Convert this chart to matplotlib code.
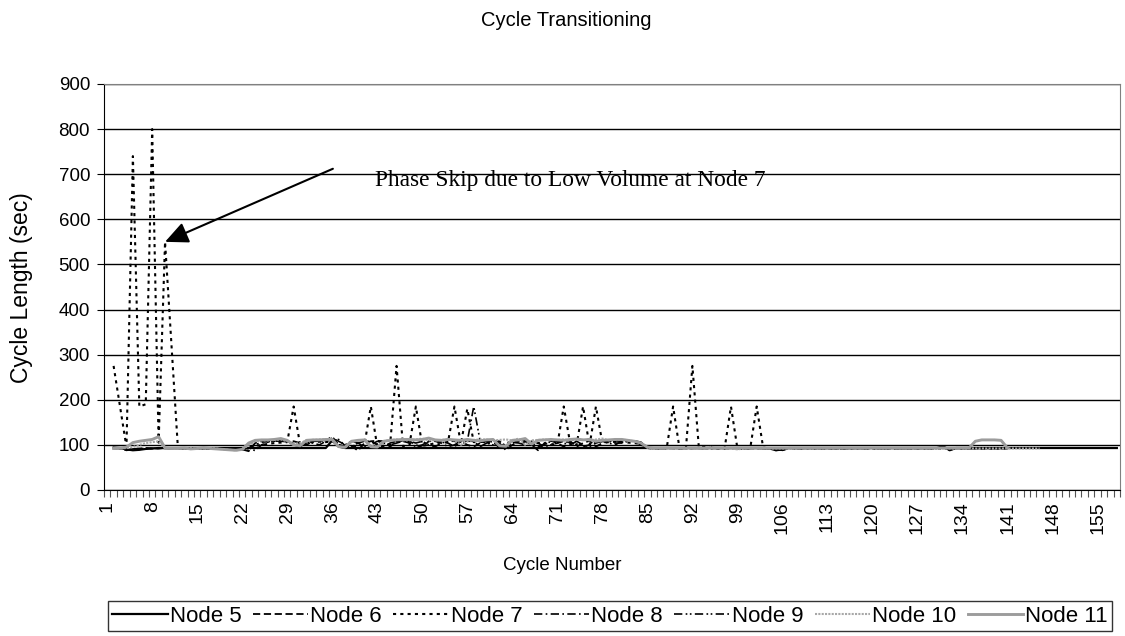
import numpy as np
import matplotlib.pyplot as plt

plt.rcParams['font.family'] = ['Liberation Sans', 'DejaVu Sans']

# cycle length (sec) per node, every series starts at cycle 2
node5 = [94, 93, 90, 88, 89, 91, 92, 93, 93, 93,
         93, 93, 93, 93, 93, 93, 93, 93, 93, 93,
         93, 93, 93, 93, 93, 93, 93, 93, 93, 93,
         93, 93, 93, 93, 110, 96, 93, 93, 93, 93,
         93, 93, 93, 93, 93, 93, 93, 93, 93, 93,
         93, 93, 93, 93, 93, 93, 93, 93, 93, 93,
         93, 93, 93, 93, 93, 93, 93, 93, 93, 93,
         93, 93, 93, 93, 93, 93, 93, 93, 93, 93,
         93, 93, 93, 93, 93, 93, 93, 93, 93, 93,
         93, 93, 93, 93, 93, 93, 93, 93, 93, 93,
         93, 93, 92, 88, 90, 93, 93, 93, 93, 93,
         93, 93, 93, 93, 93, 93, 93, 93, 93, 93,
         93, 93, 93, 93, 93, 93, 93, 93, 93, 97,
         88, 93, 93, 93, 93, 93, 93, 93, 93, 93,
         93, 93, 93, 93, 93, 93, 93, 93, 93, 93,
         93, 93, 93, 93, 93, 93, 93]
node6 = [92, 92, 88, 90, 92, 93, 92, 92, 93, 92,
         92, 93, 92, 91, 92, 92, 93, 92, 91, 90,
         90, 86, 104, 108, 108, 109, 109, 108, 108, 104,
         100, 108, 109, 110, 118, 100, 95, 98, 87, 104,
         108, 109, 108, 96, 108, 109, 108, 100, 94, 108,
         109, 108, 104, 96, 108, 100, 96, 104, 108, 109,
         108, 96, 104, 109, 108, 100, 88, 104, 109, 104,
         96, 108, 96, 104, 109, 96, 104, 108, 109, 108,
         109, 108, 100, 93, 92, 92, 93, 92, 92, 93,
         92, 93, 92, 92, 93, 92, 92, 93, 92, 92,
         93, 92, 92, 88, 92, 93, 92, 92, 93, 92,
         92, 92, 92, 92, 92, 92, 92, 92, 92, 92,
         92, 92, 92, 92, 92, 92, 92, 92, 92, 96,
         89, 92, 92, 92, 92, 92, 92, 92, 92, 92]
node7 = [275, 185, 95, 740, 185, 190, 800, 105, 550, 320,
         93, 92, 92, 93, 92, 91, 92, 92, 91, 90,
         91, 94, 98, 100, 102, 104, 105, 106, 185, 100,
         105, 106, 107, 106, 108, 100, 96, 98, 97, 100,
         185, 96, 98, 100, 275, 97, 100, 185, 98, 100,
         104, 105, 106, 185, 102, 180, 106, 107, 105, 104,
         100, 98, 104, 106, 107, 105, 104, 103, 102, 100,
         185, 103, 100, 185, 98, 185, 104, 106, 107, 106,
         105, 104, 102, 93, 92, 92, 92, 185, 92, 93,
         275, 95, 96, 94, 92, 91, 185, 92, 91, 93,
         185, 94, 92, 92, 93, 92, 92, 92, 92, 92,
         92, 92, 92, 92, 92, 92, 92, 92, 92, 92,
         92, 92, 92, 92, 92, 92, 92, 92, 92, 92,
         92, 92, 92, 92, 92, 92, 92, 92, 92, 92]
node8 = [93, 92, 90, 91, 92, 92, 92, 93, 92, 92,
         92, 92, 93, 92, 92, 91, 92, 92, 91, 90,
         89, 92, 100, 106, 107, 108, 108, 107, 100, 96,
         104, 108, 108, 109, 110, 112, 98, 96, 104, 108,
         108, 100, 96, 104, 108, 108, 104, 96, 100, 108,
         108, 104, 96, 100, 108, 108, 108, 96, 104, 108,
         104, 88, 100, 108, 108, 104, 96, 100, 108, 108,
         104, 100, 108, 96, 100, 108, 108, 104, 100, 108,
         108, 108, 104, 94, 92, 92, 93, 92, 92, 92,
         93, 92, 92, 93, 92, 92, 93, 92, 92, 92,
         92, 92, 93, 90, 88, 92, 92, 92, 92, 92,
         92, 92, 92, 92, 92, 92, 92, 92, 92, 92,
         92, 92, 92, 92, 92, 92, 92, 92, 93, 95,
         90, 92, 92, 92, 92, 92, 92, 92, 92, 92]
node9 = [92, 93, 91, 89, 90, 92, 92, 92, 93, 92,
         92, 91, 92, 92, 93, 92, 92, 91, 90, 90,
         90, 94, 87, 100, 106, 108, 109, 108, 104, 100,
         106, 104, 100, 108, 115, 108, 100, 108, 104, 96,
         100, 108, 104, 100, 104, 108, 108, 104, 108, 100,
         96, 104, 108, 108, 104, 108, 185, 108, 104, 100,
         96, 104, 108, 104, 100, 108, 104, 96, 100, 104,
         108, 104, 108, 100, 96, 104, 108, 108, 104, 104,
         108, 109, 106, 95, 92, 92, 92, 93, 92, 92,
         92, 93, 92, 92, 92, 93, 92, 92, 92, 92,
         92, 92, 92, 92, 88, 93, 92, 92, 92, 92,
         92, 92, 92, 92, 92, 92, 92, 92, 92, 92,
         92, 92, 92, 92, 92, 92, 92, 92, 92, 92,
         92, 92, 92, 92, 92, 92, 92, 92, 92, 92]
node10 = [92, 92, 93, 95, 100, 104, 106, 108, 93, 92,
          92, 92, 93, 91, 92, 93, 92, 90, 89, 88,
          89, 100, 108, 110, 110, 111, 112, 108, 102, 104,
          110, 111, 112, 112, 110, 96, 94, 106, 110, 111,
          98, 96, 108, 111, 112, 110, 110, 112, 114, 110,
          110, 111, 112, 110, 100, 108, 111, 112, 112, 110,
          111, 112, 110, 114, 100, 110, 111, 112, 110, 111,
          112, 110, 112, 111, 110, 112, 114, 110, 111, 112,
          110, 108, 104, 94, 92, 92, 92, 92, 92, 92,
          92, 93, 92, 96, 92, 92, 92, 90, 92, 92,
          92, 93, 92, 92, 92, 92, 92, 92, 92, 92,
          92, 92, 92, 94, 92, 92, 92, 92, 92, 92,
          92, 92, 92, 92, 92, 92, 92, 92, 92, 92,
          92, 92, 92, 92, 92, 92, 92, 92, 92, 92,
          92, 92, 92, 92, 92]
node11 = [92, 93, 95, 105, 108, 110, 112, 118, 93, 92,
          92, 93, 91, 92, 94, 92, 91, 90, 89, 88,
          90, 104, 110, 111, 111, 112, 114, 110, 100, 98,
          110, 111, 111, 112, 112, 96, 95, 108, 110, 111,
          96, 95, 108, 110, 111, 112, 112, 111, 112, 115,
          111, 110, 112, 111, 110, 112, 110, 109, 111, 112,
          98, 97, 110, 111, 114, 102, 110, 111, 112, 111,
          110, 112, 113, 111, 112, 108, 110, 111, 112, 112,
          110, 108, 104, 95, 93, 93, 93, 93, 93, 93,
          93, 93, 93, 93, 93, 93, 93, 93, 93, 93,
          93, 93, 93, 93, 93, 93, 93, 93, 93, 93,
          93, 93, 93, 93, 93, 93, 93, 93, 93, 93,
          93, 93, 93, 93, 93, 93, 93, 93, 93, 93,
          93, 93, 93, 93, 108, 111, 111, 111, 110, 93]

n_cycles = 158
first_cycle = 2
tick_labels = list(range(1, n_cycles + 1, 7))

series = [
    ('Node 5', node5, dict(color='black', lw=1.6, ls='-')),
    ('Node 6', node6, dict(color='black', lw=1.3, ls=(0, (4, 2)))),
    ('Node 7', node7, dict(color='black', lw=1.5, ls=(0, (1.5, 2)))),
    ('Node 8', node8, dict(color='black', lw=1.2, ls=(0, (5, 2, 1, 2)))),
    ('Node 9', node9, dict(color='black', lw=1.2, ls=(0, (5, 2, 1, 1.5, 1, 2)))),
    ('Node 10', node10, dict(color='#a8a8a8', lw=1.5, ls=(0, (1, 0.6)))),
    ('Node 11', node11, dict(color='#9c9c9c', lw=2.1, ls='-')),
]

fig = plt.figure(figsize=(11.25, 6.36), dpi=100)
ax = fig.add_axes([0.0924, 0.2296, 0.9032, 0.6384])

for name, vals, style in series:
    x = np.arange(first_cycle, first_cycle + len(vals))
    ax.plot(x, vals, label=name, **style)

ax.set_xlim(0.5, n_cycles + 0.5)
ax.set_ylim(0, 900)
ax.set_yticks(range(0, 901, 100))
ax.yaxis.grid(True, color='black', lw=1)
ax.set_axisbelow(True)

# category boundaries get the tick marks, every 7th cycle gets a label
ax.set_xticks(tick_labels)
ax.set_xticklabels([str(t) for t in tick_labels], rotation=90, fontsize=14)
ax.set_xticks(np.arange(0.5, n_cycles + 1), minor=True)
ax.tick_params(axis='x', which='major', length=0, pad=8)
ax.tick_params(axis='x', which='minor', length=5, width=0.8, color='#555555')
ax.tick_params(axis='y', length=5, labelsize=13.5, pad=5)

for s in ['top', 'right']:
    ax.spines[s].set_color('#808080')
ax.spines['left'].set_color('black')
ax.spines['bottom'].set_color('black')

fig.text(0.5, 1 - 566 / 636, 'Cycle Number', ha='center', va='center', fontsize=13.5)
fig.text(22 / 1125, 1 - 288 / 636, 'Cycle Length (sec)', ha='center', va='center',
         rotation=90, fontsize=16.5)
fig.text(0.503, 1 - 20 / 636, 'Cycle Transitioning', ha='center', va='center', fontsize=14.5)

# arrow pointing at the skipped phase, label placed to its right
ax.annotate('', xy=(10, 550), xytext=(36.1, 712),
            arrowprops=dict(arrowstyle='-|>,head_length=1.4,head_width=0.65',
                            color='black', lw=1.5, shrinkA=0, shrinkB=0))
ax.text(42.6, 687, 'Phase Skip due to Low Volume at Node 7', fontsize=16.8,
        family=['Liberation Serif', 'DejaVu Serif'], ha='left', va='center')

leg = fig.legend(loc='center', bbox_to_anchor=(610 / 1125, 1 - 616 / 636),
                 ncol=7, fontsize=16, frameon=True, fancybox=False,
                 handlelength=2.5, handletextpad=0.1, columnspacing=0.5,
                 borderaxespad=0, borderpad=0.2)
leg.get_frame().set_edgecolor('black')
leg.get_frame().set_linewidth(1)

fig.savefig('out.png', dpi=100)
